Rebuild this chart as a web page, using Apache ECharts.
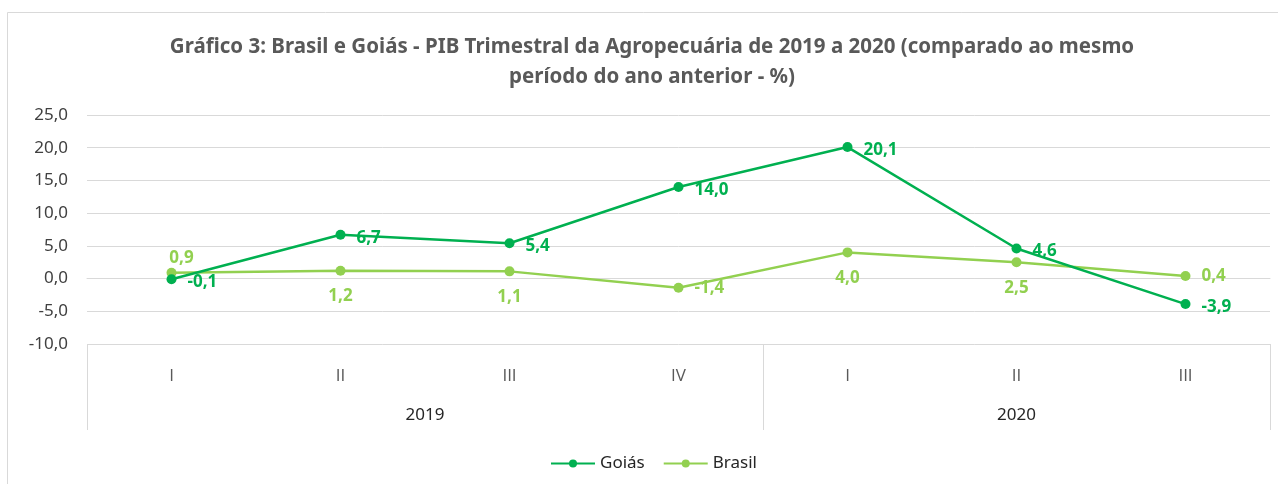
<!DOCTYPE html>
<html>
<head>
<meta charset="utf-8">
<script src="https://cdn.jsdelivr.net/npm/echarts@6/dist/echarts.min.js"></script>
<style>
html,body{margin:0;padding:0;background:#fff;}
#chart{width:1278px;height:484px;}
</style>
</head>
<body>
<div id="chart"></div>
<script>
const titleText = 'Gráfico 3: Brasil e Goiás - PIB Trimestral da Agropecuária de 2019 a 2020 (comparado ao mesmo\nperíodo do ano anterior - %)';
const quarters = ['I', 'II', 'III', 'IV', 'I', 'II', 'III'];
const years = ['2019', '2020'];
const yearSpans = [4, 3];
const goias = [-0.1, 6.7, 5.4, 14.0, 20.1, 4.6, -3.9];
const brasil = [0.9, 1.2, 1.1, -1.4, 4.0, 2.5, 0.4];
const brasilLabelPos = ['top', 'bottom', 'bottom', 'right', 'bottom', 'bottom', 'right'];
const yMin = -10, yMax = 25, yStep = 5;

const FONT = '"Noto Sans", sans-serif';
const FONT2 = '"Open Sans", sans-serif';
const fmt = v => v.toFixed(1).replace('.', ',');

// year group boundaries and centres on a 0..n value scale
const bounds = [0];
yearSpans.forEach(s => bounds.push(bounds[bounds.length - 1] + s));
const centres = yearSpans.map((s, i) => bounds[i] + s / 2);

const chart = echarts.init(document.getElementById('chart'));
chart.setOption({
  backgroundColor: '#fff',
  animation: false,
  graphic: [{
    type: 'rect', silent: true,
    shape: { x: 7.5, y: 12.5, width: 1300, height: 500 },
    style: { fill: 'none', stroke: '#d9d9d9', lineWidth: 1 }
  }, {
    type: 'text', silent: true,
    x: 652, y: 32,
    style: {
      text: titleText, align: 'center', verticalAlign: 'top',
      fontFamily: FONT, fontSize: 20.5, fontWeight: 'bold', fill: '#595959', lineHeight: 30
    }
  }],
  legend: {
    data: ['Goiás', 'Brasil'],
    left: 545, top: 450,
    itemWidth: 44, itemHeight: 10, itemGap: 18,
    textStyle: { fontFamily: FONT, fontSize: 17, color: '#262626' }
  },
  grid: { left: 87, right: 8, top: 115, bottom: 140, containLabel: false },
  xAxis: [{
    type: 'category',
    data: quarters,
    boundaryGap: true,
    axisLine: { show: true, lineStyle: { color: '#d9d9d9', width: 1 } },
    axisTick: { show: false },
    axisLabel: { margin: 24, fontFamily: FONT2, fontSize: 17, color: '#595959' },
    splitLine: { show: false }
  }, {
    type: 'value',
    position: 'bottom',
    min: 0, max: quarters.length,
    axisLine: { show: false },
    axisTick: { show: true, customValues: bounds, length: 86, lineStyle: { color: '#d9d9d9', width: 1 } },
    axisLabel: {
      customValues: centres, margin: 63,
      fontFamily: FONT, fontSize: 17, color: '#262626',
      formatter: v => { const i = centres.indexOf(v); return i >= 0 ? years[i] : ''; }
    },
    splitLine: { show: false }
  }],
  yAxis: {
    type: 'value',
    min: yMin, max: yMax, interval: yStep,
    axisLine: { show: false },
    axisTick: { show: false },
    axisLabel: { margin: 19, fontFamily: FONT, fontSize: 17, color: '#404040', formatter: v => fmt(v) },
    splitLine: { lineStyle: { color: '#d9d9d9', width: 1 } }
  },
  series: [{
    name: 'Goiás',
    type: 'line',
    data: goias,
    symbol: 'circle', symbolSize: 10,
    itemStyle: { color: '#00B050' },
    lineStyle: { color: '#00B050', width: 2.5 },
    label: {
      show: true, position: 'right', distance: 11, offset: [0, 3],
      fontFamily: FONT, fontSize: 17, fontWeight: 'bold', color: '#00B050',
      formatter: p => fmt(p.value)
    },
    z: 3
  }, {
    name: 'Brasil',
    type: 'line',
    data: brasil.map((v, i) => {
      const pos = brasilLabelPos[i];
      return {
        value: v,
        label: {
          position: pos,
          distance: pos === 'right' ? 11 : (pos === 'top' ? 1 : 12),
          offset: pos === 'top' ? [10, 0] : [0, 0]
        }
      };
    }),
    symbol: 'circle', symbolSize: 10,
    itemStyle: { color: '#92D050' },
    lineStyle: { color: '#92D050', width: 2.5 },
    label: {
      show: true,
      fontFamily: FONT, fontSize: 17, fontWeight: 'bold', color: '#92D050',
      formatter: p => fmt(p.value)
    },
    z: 2
  }]
});
</script>
</body>
</html>
